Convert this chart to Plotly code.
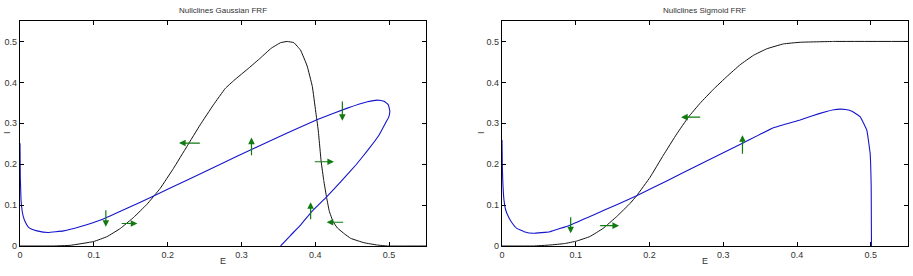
import plotly.graph_objects as go

# ---------------- data: Gaussian FRF ----------------
g_e_null_E = [0.0, 0.045, 0.068, 0.1, 0.118, 0.136, 0.154, 0.172, 0.19, 0.208, 0.226, 0.244, 0.262,
              0.278, 0.29, 0.31, 0.326, 0.34, 0.353, 0.362, 0.371, 0.38, 0.389, 0.396, 0.4005,
              0.404, 0.408, 0.4115, 0.4154, 0.419, 0.424, 0.43, 0.44, 0.448, 0.466, 0.484, 0.498, 0.55]
g_e_null_I = [0.0, 0.0, 0.0016, 0.011, 0.023, 0.043, 0.07, 0.102, 0.141, 0.19, 0.243, 0.296, 0.345,
              0.385, 0.405, 0.435, 0.46, 0.483, 0.497, 0.5, 0.497, 0.479, 0.44, 0.39, 0.33,
              0.283, 0.206, 0.16, 0.118, 0.085, 0.06, 0.044, 0.029, 0.0187, 0.008, 0.0024, 0.0, 0.0]
g_i_null_E = [0.0, 0.0004, 0.0014, 0.003, 0.0045, 0.007, 0.011, 0.016, 0.023, 0.038, 0.059, 0.081,
              0.113, 0.145, 0.181, 0.226, 0.2715, 0.3136, 0.362, 0.403, 0.4434, 0.4706, 0.4842,
              0.4932, 0.499, 0.501, 0.4995, 0.495, 0.486, 0.472, 0.455, 0.435, 0.4154, 0.3946,
              0.38, 0.366, 0.353]
g_i_null_I = [0.251, 0.17, 0.112, 0.085, 0.072, 0.059, 0.047, 0.041, 0.037, 0.033, 0.037, 0.047,
              0.066, 0.092, 0.122, 0.161, 0.2, 0.236, 0.276, 0.309, 0.337, 0.3526, 0.3567,
              0.354, 0.345, 0.33, 0.315, 0.3, 0.27, 0.236, 0.198, 0.158, 0.12, 0.083,
              0.051, 0.025, 0.0]
# arrows: (tail E, tail I, head E, head I)
g_arrows = [
    (0.1163, 0.091, 0.1163, 0.047),
    (0.1357, 0.055, 0.159, 0.055),
    (0.2457, 0.2516, 0.2154, 0.2516),
    (0.3136, 0.218, 0.3136, 0.265),
    (0.4367, 0.357, 0.4367, 0.306),
    (0.3973, 0.206, 0.4253, 0.206),
    (0.3937, 0.062, 0.3937, 0.107),
    (0.4398, 0.058, 0.4154, 0.058),
]

# ---------------- data: Sigmoid FRF ----------------
s_e_null_E = [0.0, 0.0425, 0.065, 0.085, 0.101, 0.119, 0.137, 0.1555, 0.1736, 0.1826, 0.2007, 0.2188,
              0.2369, 0.2527, 0.2685, 0.2866, 0.3047, 0.3228, 0.3408, 0.3589, 0.3815, 0.4041,
              0.4494, 0.55]
s_e_null_I = [0.0, 0.0, 0.0024, 0.006, 0.012, 0.023, 0.043, 0.072, 0.104, 0.123, 0.168, 0.222,
              0.274, 0.315, 0.349, 0.383, 0.414, 0.443, 0.466, 0.482, 0.494, 0.498,
              0.5, 0.5]
s_i_null_E = [0.0, 0.0004, 0.001, 0.0027, 0.005, 0.0086, 0.013, 0.02, 0.03, 0.0425, 0.065, 0.092,
              0.124, 0.1555, 0.1826, 0.2233, 0.2685, 0.326, 0.368, 0.4041, 0.42, 0.44, 0.45,
              0.4584, 0.466, 0.475, 0.4855, 0.4946, 0.4991, 0.5005, 0.5009]
s_i_null_I = [0.259, 0.2, 0.161, 0.112, 0.088, 0.072, 0.058, 0.043, 0.035, 0.031, 0.035, 0.051,
              0.0757, 0.101, 0.123, 0.159, 0.2, 0.251, 0.289, 0.308, 0.318, 0.329, 0.333,
              0.3345, 0.3335, 0.329, 0.316, 0.283, 0.226, 0.145, 0.0]
s_arrows = [
    (0.0931, 0.074, 0.0931, 0.031),
    (0.131, 0.0497, 0.1587, 0.0497),
    (0.2708, 0.315, 0.2428, 0.315),
    (0.326, 0.222, 0.326, 0.271),
]

tick_vals = [0, 0.1, 0.2, 0.3, 0.4, 0.5]
tick_text = ["0", "0.1", "0.2", "0.3", "0.4", "0.5"]
titles = ["Nullclines Gaussian FRF", "Nullclines Sigmoid FRF"]

W, H = 913, 276
fig = go.Figure()

line_black = dict(color="#111111", width=1, shape="spline", smoothing=0.25)
line_blue = dict(color="#1515cc", width=1.1, shape="spline", smoothing=0.25)

fig.add_trace(go.Scatter(x=g_e_null_E, y=g_e_null_I, mode="lines", line=line_black, xaxis="x", yaxis="y",
                         hoverinfo="skip"))
fig.add_trace(go.Scatter(x=g_i_null_E, y=g_i_null_I, mode="lines", line=line_blue, xaxis="x", yaxis="y",
                         hoverinfo="skip"))
fig.add_trace(go.Scatter(x=s_e_null_E, y=s_e_null_I, mode="lines", line=line_black, xaxis="x2", yaxis="y2",
                         hoverinfo="skip"))
fig.add_trace(go.Scatter(x=s_i_null_E, y=s_i_null_I, mode="lines", line=line_blue, xaxis="x2", yaxis="y2",
                         hoverinfo="skip"))

annotations = []
for arrows, xr, yr in [(g_arrows, "x", "y"), (s_arrows, "x2", "y2")]:
    for (te, ti, he, hi) in arrows:
        annotations.append(dict(x=he, y=hi, ax=te, ay=ti, xref=xr, yref=yr, axref=xr, ayref=yr,
                                showarrow=True, arrowhead=2, arrowsize=1.1, arrowwidth=1.2,
                                arrowcolor="#117a11", text=""))

dom_y = [(H - 246) / H, (H - 21) / H]
doms_x = [[20 / W, 426 / W], [502 / W, 907.7 / W]]

axis_common = dict(range=[0, 0.55], tickvals=tick_vals, ticktext=tick_text, ticks="inside", ticklen=4,
                   tickcolor="black", showline=True, linecolor="black", linewidth=1.3, mirror="ticks",
                   showgrid=False, zeroline=False, automargin=False,
                   tickfont=dict(family="Liberation Sans, Arial", size=9, color="#333333"))

layout = dict(width=W, height=H, margin=dict(l=0, r=0, t=0, b=0, pad=0, autoexpand=False),
              plot_bgcolor="white", paper_bgcolor="white", showlegend=False)
layout["xaxis"] = dict(axis_common, domain=doms_x[0], anchor="y")
layout["yaxis"] = dict(axis_common, domain=dom_y, anchor="x")
layout["xaxis2"] = dict(axis_common, domain=doms_x[1], anchor="y2")
layout["yaxis2"] = dict(axis_common, domain=dom_y, anchor="x2")

font_small = dict(family="Liberation Sans, Arial", size=8, color="#333333")
for i, (xd, t) in enumerate(zip(doms_x, titles)):
    cx = (xd[0] + xd[1]) / 2
    annotations.append(dict(text=t, x=cx, y=1 - 11 / H, xref="paper", yref="paper", showarrow=False,
                            font=font_small, xanchor="center", yanchor="middle"))
    annotations.append(dict(text="E", x=cx, y=1 - 261 / H, xref="paper", yref="paper", showarrow=False,
                            font=dict(font_small, size=9), xanchor="center", yanchor="middle"))
annotations.append(dict(text="I", x=0, y=1 - 133 / H, xref="paper", yref="paper", showarrow=False,
                        font=dict(font_small, size=9), textangle=-90, xanchor="left", yanchor="middle",
                        xshift=0))
annotations.append(dict(text="I", x=481 / W, y=1 - 133 / H, xref="paper", yref="paper", showarrow=False,
                        font=dict(font_small, size=9), textangle=-90, xanchor="center", yanchor="middle"))
layout["annotations"] = annotations

fig.update_layout(**layout)
fig.write_html("out.html")
